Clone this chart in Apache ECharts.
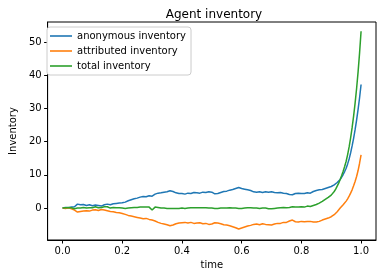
<!DOCTYPE html>
<html>
<head>
<meta charset="utf-8">
<script src="https://cdn.jsdelivr.net/npm/echarts@6/dist/echarts.min.js"></script>
<style>html,body{margin:0;padding:0;background:#fff}#c{width:382px;height:278px}</style>
</head>
<body>
<div id="c"></div>
<script>
const time = [0.00,0.01,0.02,0.03,0.04,0.05,0.06,0.07,0.08,0.09,
0.10,0.11,0.12,0.13,0.14,0.15,0.16,0.17,0.18,0.19,
0.20,0.21,0.22,0.23,0.24,0.25,0.26,0.27,0.28,0.29,
0.30,0.31,0.32,0.33,0.34,0.35,0.36,0.37,0.38,0.39,
0.40,0.41,0.42,0.43,0.44,0.45,0.46,0.47,0.48,0.49,
0.50,0.51,0.52,0.53,0.54,0.55,0.56,0.57,0.58,0.59,
0.60,0.61,0.62,0.63,0.64,0.65,0.66,0.67,0.68,0.69,
0.70,0.71,0.72,0.73,0.74,0.75,0.76,0.77,0.78,0.79,
0.80,0.81,0.82,0.83,0.84,0.85,0.86,0.87,0.88,0.89,
0.90,0.905,0.91,0.915,0.92,0.925,0.93,0.935,0.94,0.945,
0.95,0.955,0.96,0.965,0.97,0.975,0.98,0.985,0.99,0.995,1.00];

const anonymous = [0,0.2,0.1,0.3,0.4,1.2,1.0,1.1,0.8,1.0,
0.7,0.9,0.8,0.6,1.0,1.2,1.0,1.3,1.4,1.5,
1.6,1.8,2.2,2.5,2.8,3.0,3.3,3.5,3.4,3.7,
3.6,4.2,4.5,4.6,4.8,4.9,5.2,5.0,4.6,4.4,
4.4,4.2,4.5,4.4,4.7,4.6,4.5,4.8,4.7,4.9,
4.8,4.3,4.4,4.7,5.0,5.1,5.4,5.6,5.9,6.2,
5.9,5.7,5.5,5.3,4.9,4.8,4.9,4.7,4.9,4.8,
4.9,4.7,4.6,4.7,4.5,4.4,4.1,4.0,4.4,4.5,
4.4,4.4,4.6,4.5,5.0,5.3,5.5,5.6,5.9,6.2,
6.5,6.8,7.0,7.3,7.7,8.1,8.6,9.3,10.1,11.0,
12.0,13.3,14.8,16.6,18.7,21.0,23.6,26.5,29.7,33.2,37.2];

const attributed = [0,-0.1,0.1,-0.2,-0.6,-1.2,-1.0,-0.9,-0.8,-0.9,
-0.6,-0.5,-0.7,-0.4,-0.6,-0.8,-1.0,-1.1,-1.3,-1.4,
-1.6,-1.9,-2.2,-2.4,-2.6,-2.8,-3.0,-3.2,-3.1,-3.4,
-3.6,-3.9,-4.3,-4.6,-4.8,-5.0,-5.3,-5.1,-4.7,-4.5,
-4.4,-4.3,-4.5,-4.3,-4.6,-4.5,-4.4,-4.7,-4.6,-4.9,
-4.8,-4.4,-4.5,-4.7,-5.0,-5.1,-5.3,-5.6,-5.9,-6.3,
-6.0,-5.7,-5.4,-5.2,-4.9,-4.8,-5.0,-4.7,-4.9,-5.0,
-5.1,-4.8,-4.6,-4.6,-4.3,-4.3,-3.9,-3.6,-4.1,-4.2,
-4.0,-4.1,-4.0,-4.0,-4.2,-4.2,-4.0,-3.6,-3.3,-3.0,
-2.6,-2.3,-2.0,-1.6,-1.1,-0.6,0.0,0.5,1.0,1.5,
2.1,2.8,3.6,4.5,5.5,6.7,8.0,9.5,11.3,13.5,16.0];

const total = [0,0.1,0.2,0.1,-0.2,0.0,0.0,0.2,0.0,0.1,
0.1,0.4,0.1,0.2,0.4,0.4,0.0,0.2,0.1,0.1,
0.0,-0.1,0.0,0.1,0.2,0.2,0.3,0.3,0.3,0.3,
-0.6,0.3,0.2,0.0,0.0,-0.1,-0.1,-0.1,-0.1,-0.1,
0.0,-0.1,0.0,0.1,0.1,0.1,0.1,0.1,0.1,0.0,
0.0,-0.1,-0.1,0.0,0.0,0.0,0.1,0.0,0.0,-0.1,
-0.1,0.0,0.1,0.1,0.0,0.0,-0.1,0.0,0.0,-0.2,
-0.2,-0.1,0.0,0.1,0.2,0.1,0.2,0.4,0.3,0.3,
0.4,0.3,0.6,0.5,0.8,1.1,1.5,2.0,2.6,3.2,
3.9,4.5,5.0,5.7,6.6,7.5,8.6,9.8,11.1,12.5,
14.1,16.1,18.4,21.1,24.2,27.7,31.6,36.0,41.0,46.7,53.2];

const xTicks = [0, 0.2, 0.4, 0.6, 0.8, 1.0];
const yTicks = [0, 10, 20, 30, 40, 50];
const seriesNames = ['anonymous inventory', 'attributed inventory', 'total inventory'];
const colors = ['#1f77b4', '#ff7f0e', '#2ca02c'];

const pairs = (vals) => time.map((t, i) => [t, vals[i]]);
const FONT = 'DejaVu Sans';

const chart = echarts.init(document.getElementById('c'), null, {renderer: 'canvas'});
chart.setOption({
  animation: false,
  backgroundColor: '#fff',
  color: colors,
  title: {
    text: 'Agent inventory',
    left: 209, top: 4, textAlign: 'center',
    textStyle: {fontFamily: FONT, fontSize: 12, fontWeight: 'normal', color: '#000'}
  },
  legend: {
    orient: 'vertical',
    left: 47, top: 27,
    padding: [4, 5, 4, 3],
    icon: 'rect',
    itemWidth: 22, itemHeight: 1.6, itemGap: 5,
    backgroundColor: '#fff',
    borderColor: '#cccccc', borderWidth: 1, borderRadius: 3,
    textStyle: {fontFamily: FONT, fontSize: 10, lineHeight: 10, color: '#000'},
    data: seriesNames
  },
  grid: {
    left: 42, right: 6, top: 22, bottom: 38,
    show: true, borderColor: '#000', borderWidth: 1, backgroundColor: 'transparent'
  },
  xAxis: {
    type: 'value', min: -0.05, max: 1.05,
    name: 'time', nameLocation: 'middle', nameGap: 20,
    nameTextStyle: {fontFamily: FONT, fontSize: 10, color: '#000'},
    axisLine: {show: true, onZero: false, lineStyle: {color: '#000', width: 1}},
    axisTick: {show: true, length: 3.5, customValues: xTicks, lineStyle: {color: '#000'}},
    axisLabel: {customValues: xTicks, margin: 6, fontFamily: FONT, fontSize: 10, color: '#000',
      formatter: v => v.toFixed(1)},
    splitLine: {show: false}
  },
  yAxis: {
    type: 'value', min: -9.6, max: 56,
    name: 'Inventory', nameLocation: 'middle', nameGap: 28, nameRotate: 90,
    nameTextStyle: {fontFamily: FONT, fontSize: 10, color: '#000'},
    axisLine: {show: true, onZero: false, lineStyle: {color: '#000', width: 1}},
    axisTick: {show: true, length: 3.5, customValues: yTicks, lineStyle: {color: '#000'}},
    axisLabel: {customValues: yTicks, margin: 6, fontFamily: FONT, fontSize: 10, color: '#000'},
    splitLine: {show: false}
  },
  series: [
    {name: seriesNames[0], type: 'line', symbol: 'none', data: pairs(anonymous), lineStyle: {width: 1.5}},
    {name: seriesNames[1], type: 'line', symbol: 'none', data: pairs(attributed), lineStyle: {width: 1.5}},
    {name: seriesNames[2], type: 'line', symbol: 'none', data: pairs(total), lineStyle: {width: 1.5}}
  ]
});
</script>
</body>
</html>
